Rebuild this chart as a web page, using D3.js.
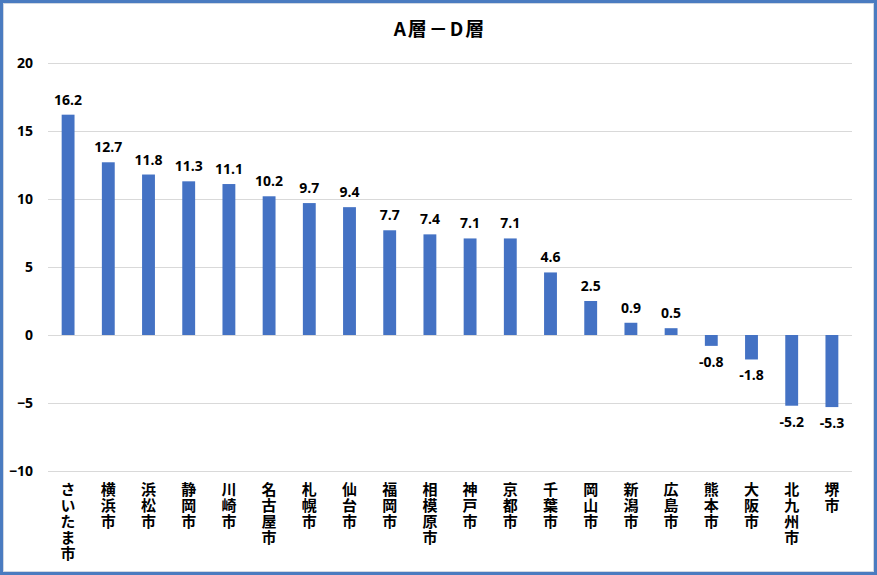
<!DOCTYPE html>
<html><head><meta charset="utf-8">
<script src="https://cdn.jsdelivr.net/npm/d3@7"></script>
<style>body{margin:0;background:#fff}svg{display:block}</style>
</head><body>
<script>
const title = "A層－D層";
const categories = ["さいたま市","横浜市","浜松市","静岡市","川崎市","名古屋市","札幌市","仙台市","福岡市","相模原市","神戸市","京都市","千葉市","岡山市","新潟市","広島市","熊本市","大阪市","北九州市","堺市"];
const values = [16.2,12.7,11.8,11.3,11.1,10.2,9.7,9.4,7.7,7.4,7.1,7.1,4.6,2.5,0.9,0.5,-0.8,-1.8,-5.2,-5.3];
const yTicks = [-10,-5,0,5,10,15,20];

const W = 877, H = 575;
const font = "'Noto Sans CJK JP','Noto Sans',sans-serif";
const numFont = "'Open Sans','Noto Sans',sans-serif";
const svg = d3.select("body").append("svg").attr("width", W).attr("height", H);
svg.append("rect").attr("x",0).attr("y",0).attr("width",W).attr("height",H).attr("fill","#fff");
svg.append("rect").attr("x",1.5).attr("y",1.5).attr("width",W-3).attr("height",H-3)
  .attr("fill","none").attr("stroke","#4a7bc0").attr("stroke-width",3);
svg.append("rect").attr("x",3.5).attr("y",3.5).attr("width",W-7).attr("height",H-7)
  .attr("fill","none").attr("stroke","#d0d7e2").attr("stroke-width",1);

const x = d3.scaleBand().domain(categories).range([48, 852]).paddingInner(0.68).paddingOuter(0.34);
const y = d3.scaleLinear().domain([-10, 20]).range([471, 63]);

svg.append("g").selectAll("line").data(yTicks).join("line")
  .attr("x1",48).attr("x2",852).attr("y1",d=>Math.round(y(d))+0.5).attr("y2",d=>Math.round(y(d))+0.5)
  .attr("stroke","#d9d9d9").attr("stroke-width",1);

const yAxis = d3.axisLeft(y).tickValues(yTicks).tickSize(0).tickPadding(0);
const ga = svg.append("g").attr("transform","translate(33,0)").call(yAxis);
ga.select(".domain").remove();
ga.selectAll("text").attr("font-family",numFont).attr("font-size",14).attr("font-weight","bold").attr("fill","#000");

svg.append("g").selectAll("rect").data(values).join("rect")
  .attr("x",(d,i)=>x(categories[i])).attr("width",x.bandwidth())
  .attr("y",d=>y(Math.max(0,d))).attr("height",d=>Math.abs(y(d)-y(0)))
  .attr("fill","#4472c4");

svg.append("g").selectAll("text").data(values).join("text")
  .attr("x",(d,i)=>x(categories[i])+x.bandwidth()/2)
  .attr("y",d=>d>=0 ? y(d)-10 : y(d)+21)
  .attr("text-anchor","middle").attr("font-family",numFont).attr("font-size",14).attr("font-weight","bold").attr("fill","#000")
  .text(d=>d.toFixed(1));

svg.append("g").selectAll("text").data(categories).join("text")
  .attr("x",c=>x(c)+x.bandwidth()/2).attr("y",482)
  .attr("writing-mode","vertical-rl")
  .style("text-orientation","upright")
  .attr("letter-spacing",1)
  .attr("font-family",font).attr("font-size",15).attr("font-weight","bold").attr("fill","#000")
  .text(c=>c);

svg.append("text").attr("x",440).attr("y",36).attr("text-anchor","middle")
  .attr("font-family",font).attr("font-size",19).attr("font-weight","bold").attr("letter-spacing",2).attr("fill","#000").text(title);
</script>
</body></html>
